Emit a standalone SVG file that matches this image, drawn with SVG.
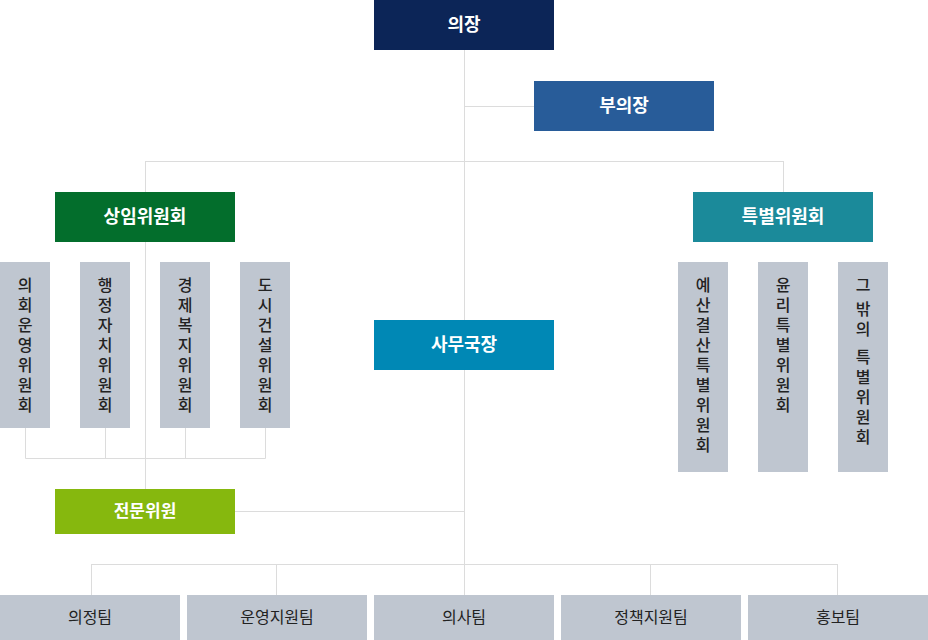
<svg xmlns="http://www.w3.org/2000/svg" width="928" height="640" viewBox="0 0 928 640">
<style>
.l{stroke:#dcdcdc;stroke-width:1;fill:none}
.w{fill:#fff;font-family:"Noto Sans CJK KR","Noto Sans",sans-serif;font-weight:bold;font-size:18px;text-anchor:middle}
.d{fill:#222;font-family:"Noto Sans CJK KR","Noto Sans",sans-serif;font-size:16px;text-anchor:middle}
.v{fill:#222;font-family:"Noto Sans CJK KR","Noto Sans",sans-serif;font-size:16px;font-weight:500;text-anchor:middle}
.g{fill:#bfc6d0}
</style>
<rect width="928" height="640" fill="#fff"/>
<g id="connectors">
<path class="l" d="M464.5 50V595M464 106.5H534M145 161.5H783.5M145.5 161V192M783.5 161V192M145.5 242V489M25.5 428V458.5H265.5V428M105.5 428V458M185.5 428V458M235 511.5H464M91.5 564.5H837.5M91.5 564V595M276.5 564V595M650.5 564V595M837.5 564V595"/>
</g>
<g id="chair"><rect x="374" y="0" width="180" height="50" fill="#0c2557"/><text class="w" x="464" y="31">의장</text></g>
<g id="vice"><rect x="534" y="81" width="180" height="50" fill="#285c99"/><text class="w" x="624" y="112">부의장</text></g>
<g id="standing"><rect x="55" y="192" width="180" height="50" fill="#036e2c"/><text class="w" x="145" y="223">상임위원회</text></g>
<g id="special"><rect x="693" y="192" width="180" height="50" fill="#1b8a9a"/><text class="w" x="783" y="223">특별위원회</text></g>
<g id="secretary"><rect x="374" y="320" width="180" height="50" fill="#0088b5"/><text class="w" x="464" y="351">사무국장</text></g>
<g id="expert"><rect x="55" y="489" width="180" height="45" fill="#86b80e"/><text class="w" x="145" y="517" style="font-size:17px">전문위원</text></g>
<g id="c1"><rect class="g" x="0" y="262" width="50" height="166"/><text class="v"><tspan x="25" y="291">의</tspan><tspan x="25" dy="20">회</tspan><tspan x="25" dy="20">운</tspan><tspan x="25" dy="20">영</tspan><tspan x="25" dy="20">위</tspan><tspan x="25" dy="20">원</tspan><tspan x="25" dy="20">회</tspan></text></g>
<g id="c2"><rect class="g" x="80" y="262" width="50" height="166"/><text class="v"><tspan x="105" y="291">행</tspan><tspan x="105" dy="20">정</tspan><tspan x="105" dy="20">자</tspan><tspan x="105" dy="20">치</tspan><tspan x="105" dy="20">위</tspan><tspan x="105" dy="20">원</tspan><tspan x="105" dy="20">회</tspan></text></g>
<g id="c3"><rect class="g" x="160" y="262" width="50" height="166"/><text class="v"><tspan x="185" y="291">경</tspan><tspan x="185" dy="20">제</tspan><tspan x="185" dy="20">복</tspan><tspan x="185" dy="20">지</tspan><tspan x="185" dy="20">위</tspan><tspan x="185" dy="20">원</tspan><tspan x="185" dy="20">회</tspan></text></g>
<g id="c4"><rect class="g" x="240" y="262" width="50" height="166"/><text class="v"><tspan x="265" y="291">도</tspan><tspan x="265" dy="20">시</tspan><tspan x="265" dy="20">건</tspan><tspan x="265" dy="20">설</tspan><tspan x="265" dy="20">위</tspan><tspan x="265" dy="20">원</tspan><tspan x="265" dy="20">회</tspan></text></g>
<g id="s1"><rect class="g" x="678" y="262" width="50" height="210"/><text class="v"><tspan x="703" y="291">예</tspan><tspan x="703" dy="20">산</tspan><tspan x="703" dy="20">결</tspan><tspan x="703" dy="20">산</tspan><tspan x="703" dy="20">특</tspan><tspan x="703" dy="20">별</tspan><tspan x="703" dy="20">위</tspan><tspan x="703" dy="20">원</tspan><tspan x="703" dy="20">회</tspan></text></g>
<g id="s2"><rect class="g" x="758" y="262" width="50" height="210"/><text class="v"><tspan x="783" y="291">윤</tspan><tspan x="783" dy="20">리</tspan><tspan x="783" dy="20">특</tspan><tspan x="783" dy="20">별</tspan><tspan x="783" dy="20">위</tspan><tspan x="783" dy="20">원</tspan><tspan x="783" dy="20">회</tspan></text></g>
<g id="s3"><rect class="g" x="838" y="262" width="50" height="210"/><text class="v"><tspan x="863" y="291">그</tspan><tspan x="863" y="315">밖</tspan><tspan x="863" dy="20">의</tspan><tspan x="863" y="363">특</tspan><tspan x="863" dy="20">별</tspan><tspan x="863" dy="20">위</tspan><tspan x="863" dy="20">원</tspan><tspan x="863" dy="20">회</tspan></text></g>
<g id="t1"><rect class="g" x="0" y="595" width="180" height="45"/><text class="d" x="90" y="623">의정팀</text></g>
<g id="t2"><rect class="g" x="187" y="595" width="180" height="45"/><text class="d" x="277" y="623">운영지원팀</text></g>
<g id="t3"><rect class="g" x="374" y="595" width="180" height="45"/><text class="d" x="464" y="623">의사팀</text></g>
<g id="t4"><rect class="g" x="561" y="595" width="180" height="45"/><text class="d" x="651" y="623">정책지원팀</text></g>
<g id="t5"><rect class="g" x="748" y="595" width="180" height="45"/><text class="d" x="838" y="623">홍보팀</text></g>
</svg>
